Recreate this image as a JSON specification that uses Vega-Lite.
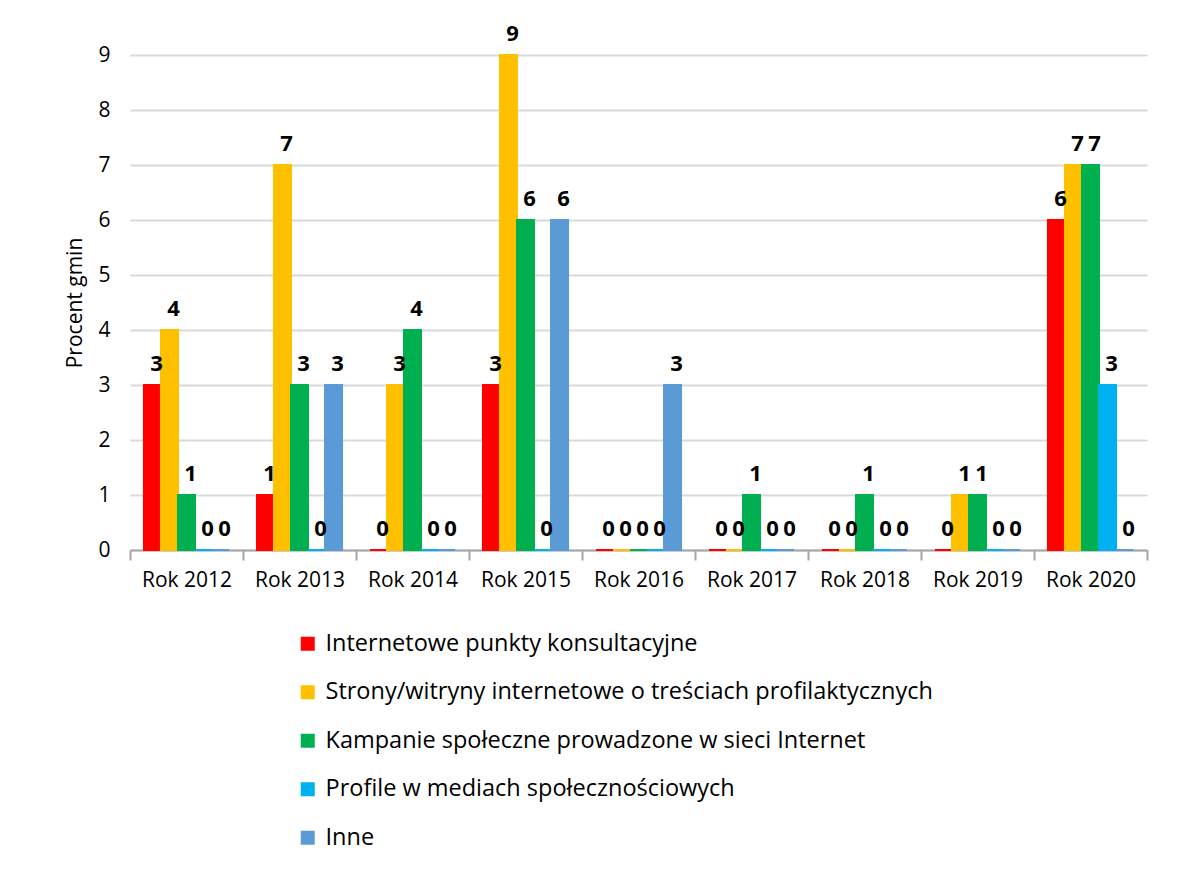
{
  "$schema": "https://vega.github.io/schema/vega-lite/v6.json",
  "width": 1017,
  "height": 495,
  "autosize": "none",
  "padding": {"left": 130, "top": 55, "right": 49, "bottom": 320},
  "background": "white",
  "config": {
    "font": "Open Sans",
    "view": {"stroke": null},
    "axis": {"labelFont": "Open Sans", "titleFont": "Open Sans", "labelColor": "#000000", "titleColor": "#000000"},
    "legend": {"labelFont": "Open Sans"}
  },
  "data": {
    "values": [
      {"year": "Rok 2012", "series": "Internetowe punkty konsultacyjne", "value": 3},
      {"year": "Rok 2012", "series": "Strony/witryny internetowe o treściach profilaktycznych", "value": 4},
      {"year": "Rok 2012", "series": "Kampanie społeczne prowadzone w sieci Internet", "value": 1},
      {"year": "Rok 2012", "series": "Profile w mediach społecznościowych", "value": 0},
      {"year": "Rok 2012", "series": "Inne", "value": 0},
      {"year": "Rok 2013", "series": "Internetowe punkty konsultacyjne", "value": 1},
      {"year": "Rok 2013", "series": "Strony/witryny internetowe o treściach profilaktycznych", "value": 7},
      {"year": "Rok 2013", "series": "Kampanie społeczne prowadzone w sieci Internet", "value": 3},
      {"year": "Rok 2013", "series": "Profile w mediach społecznościowych", "value": 0},
      {"year": "Rok 2013", "series": "Inne", "value": 3},
      {"year": "Rok 2014", "series": "Internetowe punkty konsultacyjne", "value": 0},
      {"year": "Rok 2014", "series": "Strony/witryny internetowe o treściach profilaktycznych", "value": 3},
      {"year": "Rok 2014", "series": "Kampanie społeczne prowadzone w sieci Internet", "value": 4},
      {"year": "Rok 2014", "series": "Profile w mediach społecznościowych", "value": 0},
      {"year": "Rok 2014", "series": "Inne", "value": 0},
      {"year": "Rok 2015", "series": "Internetowe punkty konsultacyjne", "value": 3},
      {"year": "Rok 2015", "series": "Strony/witryny internetowe o treściach profilaktycznych", "value": 9},
      {"year": "Rok 2015", "series": "Kampanie społeczne prowadzone w sieci Internet", "value": 6},
      {"year": "Rok 2015", "series": "Profile w mediach społecznościowych", "value": 0},
      {"year": "Rok 2015", "series": "Inne", "value": 6},
      {"year": "Rok 2016", "series": "Internetowe punkty konsultacyjne", "value": 0},
      {"year": "Rok 2016", "series": "Strony/witryny internetowe o treściach profilaktycznych", "value": 0},
      {"year": "Rok 2016", "series": "Kampanie społeczne prowadzone w sieci Internet", "value": 0},
      {"year": "Rok 2016", "series": "Profile w mediach społecznościowych", "value": 0},
      {"year": "Rok 2016", "series": "Inne", "value": 3},
      {"year": "Rok 2017", "series": "Internetowe punkty konsultacyjne", "value": 0},
      {"year": "Rok 2017", "series": "Strony/witryny internetowe o treściach profilaktycznych", "value": 0},
      {"year": "Rok 2017", "series": "Kampanie społeczne prowadzone w sieci Internet", "value": 1},
      {"year": "Rok 2017", "series": "Profile w mediach społecznościowych", "value": 0},
      {"year": "Rok 2017", "series": "Inne", "value": 0},
      {"year": "Rok 2018", "series": "Internetowe punkty konsultacyjne", "value": 0},
      {"year": "Rok 2018", "series": "Strony/witryny internetowe o treściach profilaktycznych", "value": 0},
      {"year": "Rok 2018", "series": "Kampanie społeczne prowadzone w sieci Internet", "value": 1},
      {"year": "Rok 2018", "series": "Profile w mediach społecznościowych", "value": 0},
      {"year": "Rok 2018", "series": "Inne", "value": 0},
      {"year": "Rok 2019", "series": "Internetowe punkty konsultacyjne", "value": 0},
      {"year": "Rok 2019", "series": "Strony/witryny internetowe o treściach profilaktycznych", "value": 1},
      {"year": "Rok 2019", "series": "Kampanie społeczne prowadzone w sieci Internet", "value": 1},
      {"year": "Rok 2019", "series": "Profile w mediach społecznościowych", "value": 0},
      {"year": "Rok 2019", "series": "Inne", "value": 0},
      {"year": "Rok 2020", "series": "Internetowe punkty konsultacyjne", "value": 6},
      {"year": "Rok 2020", "series": "Strony/witryny internetowe o treściach profilaktycznych", "value": 7},
      {"year": "Rok 2020", "series": "Kampanie społeczne prowadzone w sieci Internet", "value": 7},
      {"year": "Rok 2020", "series": "Profile w mediach społecznościowych", "value": 3},
      {"year": "Rok 2020", "series": "Inne", "value": 0}
    ]
  },
  "encoding": {
    "x": {
      "field": "year", "type": "nominal",
      "scale": {"paddingInner": 0, "paddingOuter": 0},
      "axis": {
        "title": null, "labelAngle": 0, "labelFontSize": 21, "labelPadding": 9,
        "tickSize": 10, "tickWidth": 2, "tickColor": "#a6a6a6", "tickBand": "extent",
        "domainColor": "#a6a6a6", "domainWidth": 2
      }
    },
    "xOffset": {
      "field": "series", "type": "nominal",
      "scale": {
        "domain": ["Internetowe punkty konsultacyjne", "Strony/witryny internetowe o treściach profilaktycznych", "Kampanie społeczne prowadzone w sieci Internet", "Profile w mediach społecznościowych", "Inne"],
        "paddingInner": 0, "paddingOuter": 0.82
      }
    },
    "y": {
      "field": "value", "type": "quantitative",
      "scale": {"domain": [0, 9], "nice": false},
      "axis": {
        "title": "Procent gmin", "titleFontSize": 21, "titleFontWeight": "normal", "titlePadding": 12,
        "labelFontSize": 21, "labelPadding": 20, "ticks": false, "domain": false,
        "values": [0, 1, 2, 3, 4, 5, 6, 7, 8, 9], "labelOverlap": false,
        "gridColor": "#d9d9d9", "gridWidth": 2
      }
    }
  },
  "layer": [
    {
      "mark": {"type": "bar", "strokeWidth": 2},
      "encoding": {
        "color": {
          "field": "series", "type": "nominal",
          "scale": {
            "domain": ["Internetowe punkty konsultacyjne", "Strony/witryny internetowe o treściach profilaktycznych", "Kampanie społeczne prowadzone w sieci Internet", "Profile w mediach społecznościowych", "Inne"],
            "range": ["#ff0000", "#ffc000", "#00b050", "#00b0f0", "#5b9bd5"]
          },
          "legend": {
            "title": null, "orient": "none", "legendX": 166, "legendY": 577,
            "direction": "vertical", "columns": 1,
            "symbolType": "square", "symbolSize": 196, "symbolStrokeWidth": 0,
            "labelFontSize": 23.5, "labelColor": "#000000", "labelLimit": 900,
            "rowPadding": 23.5, "labelOffset": 6
          }
        },
        "stroke": {
          "field": "series", "type": "nominal",
          "scale": {
            "domain": ["Internetowe punkty konsultacyjne", "Strony/witryny internetowe o treściach profilaktycznych", "Kampanie społeczne prowadzone w sieci Internet", "Profile w mediach społecznościowych", "Inne"],
            "range": ["#ff0000", "#ffc000", "#00b050", "#00b0f0", "#5b9bd5"]
          },
          "legend": null
        }
      }
    },
    {
      "mark": {"type": "text", "baseline": "bottom", "dy": -9, "dx": 4, "fontSize": 22, "fontWeight": "bold", "color": "#000000"},
      "encoding": {
        "text": {"field": "value", "type": "quantitative"}
      }
    }
  ]
}
